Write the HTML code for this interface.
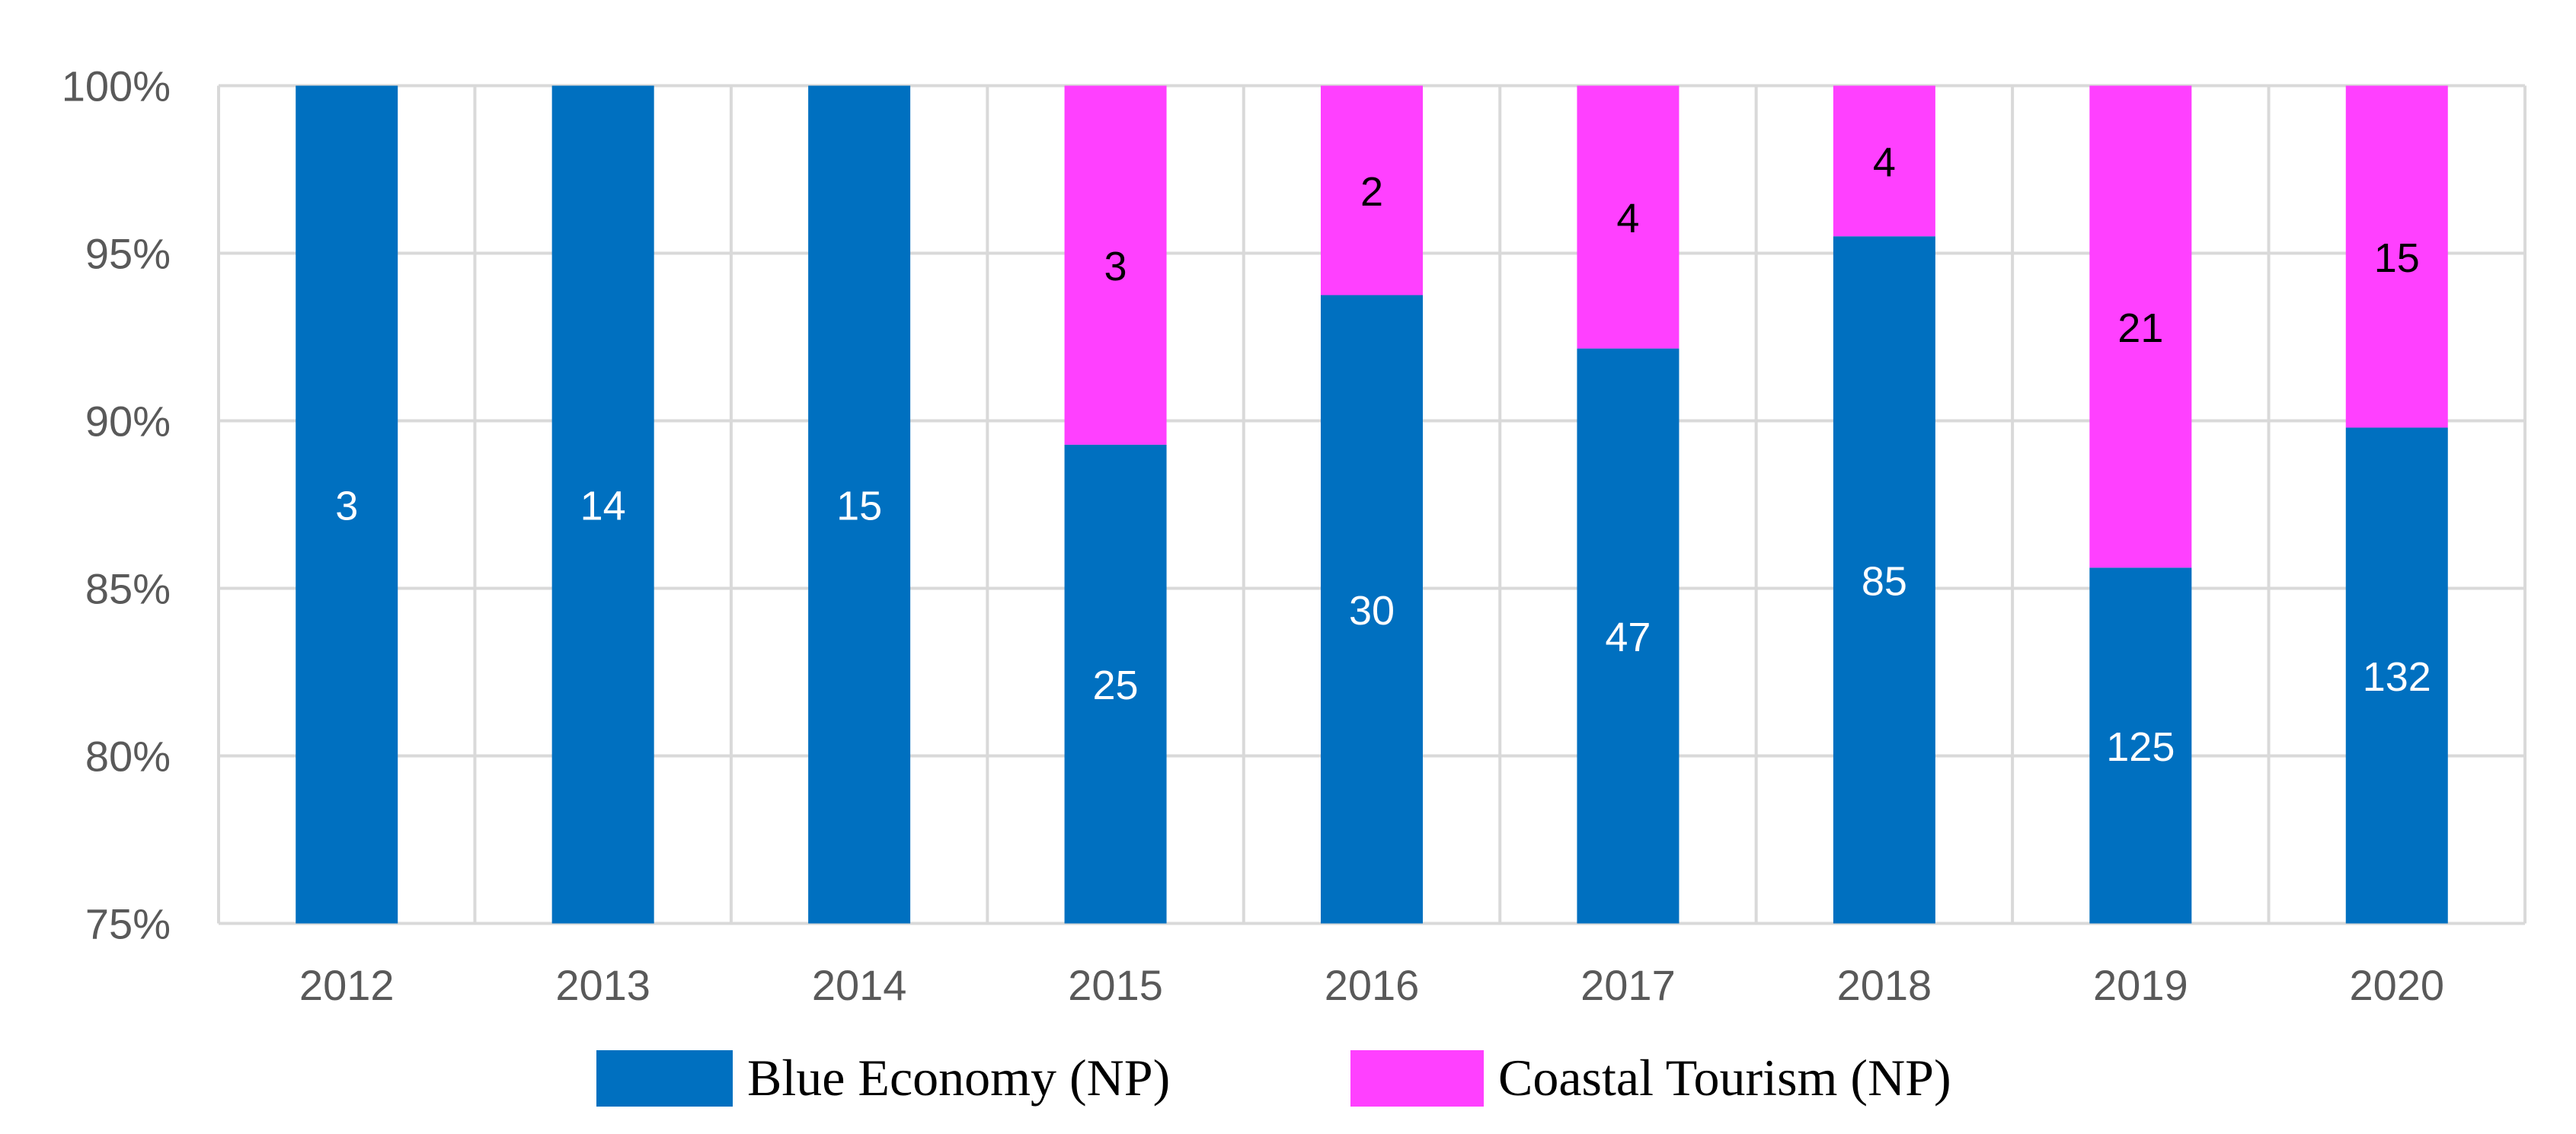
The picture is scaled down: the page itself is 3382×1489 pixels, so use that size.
<!DOCTYPE html>
<html><head><meta charset="utf-8">
<style>
html,body{margin:0;padding:0;background:#fff;}
svg{display:block;}
</style></head>
<body>
<svg id="chart" width="3382" height="1489" viewBox="0 0 3382 1489" xmlns="http://www.w3.org/2000/svg">
<rect x="0" y="0" width="3382" height="1489" fill="#ffffff"/>
<g id="grid"></g>
<g id="bars"></g>
<g id="yaxis"></g>
<g id="xaxis"></g>
<g>
  <g>
    <rect x="783" y="1379" width="179" height="74" fill="#0070C0"/>
    <text x="981" y="1438" font-family="Liberation Serif, serif" font-size="68" fill="#000">Blue Economy (NP)</text>
  </g>
  <g>
    <rect x="1773" y="1379" width="175" height="74" fill="#FF40FF"/>
    <text x="1967" y="1438" font-family="Liberation Serif, serif" font-size="68" fill="#000">Coastal Tourism (NP)</text>
  </g>
</g>
</svg>
<script>
const categories = ["2012","2013","2014","2015","2016","2017","2018","2019","2020"];
const blueEconomy = [3,14,15,25,30,47,85,125,132];
const coastalTourism = [0,0,0,3,2,4,4,21,15];
const yTicks = [75,80,85,90,95,100];
const yTickLabels = ["75%","80%","85%","90%","95%","100%"];

const NS = "http://www.w3.org/2000/svg";
const plotL = 287, plotR = 3315, plotT = 112.5, plotB = 1212.5;
const yMin = 75, yMax = 100;
const catW = (plotR - plotL) / categories.length;
const barW = 134;
function y(p){ return plotB - (p - yMin) / (yMax - yMin) * (plotB - plotT); }
function xc(i){ return plotL + catW * (i + 0.5); }
function mk(tag, attrs, parent){
  const e = document.createElementNS(NS, tag);
  for (const k in attrs) e.setAttribute(k, attrs[k]);
  parent.appendChild(e);
  return e;
}
const grid = document.getElementById("grid");
const bars = document.getElementById("bars");
const yaxis = document.getElementById("yaxis");
const xaxis = document.getElementById("xaxis");

yTicks.forEach((t, i) => {
  const l = mk("line", {x1: plotL, x2: plotR, y1: y(t), y2: y(t), stroke: "#d9d9d9", "stroke-width": 4}, grid);
  
  
  const tx = mk("text", {x: 224, y: y(t) + 20, "text-anchor": "end", "font-family": "Liberation Sans, sans-serif", "font-size": 56, fill: "#595959"}, yaxis);
  tx.textContent = yTickLabels[i];
  
  
});
for (let i = 0; i <= categories.length; i++) {
  const gx = plotL + catW * i;
  const l = mk("line", {x1: gx, x2: gx, y1: plotT, y2: plotB, stroke: "#d9d9d9", "stroke-width": 4}, grid);
  
  
}
categories.forEach((c, i) => {
  const total = blueEconomy[i] + coastalTourism[i];
  const pct = blueEconomy[i] / total * 100;
  const split = y(Math.max(pct, yMin));
  const cx = xc(i);
  const b = mk("rect", {x: cx - barW/2, y: split, width: barW, height: plotB - split, fill: "#0070C0"}, bars);
  
  
  const bl = mk("text", {x: cx, y: (split + plotB)/2 + 20, "text-anchor": "middle", "font-family": "Liberation Sans, sans-serif", "font-size": 54, fill: "#ffffff"}, bars);
  bl.textContent = blueEconomy[i];
  
  
  if (coastalTourism[i] > 0) {
    const p = mk("rect", {x: cx - barW/2, y: plotT, width: barW, height: split - plotT, fill: "#FF40FF"}, bars);
    
    
    const pl = mk("text", {x: cx, y: (plotT + split)/2 + 20, "text-anchor": "middle", "font-family": "Liberation Sans, sans-serif", "font-size": 54, fill: "#000000"}, bars);
    pl.textContent = coastalTourism[i];
    
    
  }
  const xl = mk("text", {x: cx, y: 1313, "text-anchor": "middle", "font-family": "Liberation Sans, sans-serif", "font-size": 56, fill: "#595959"}, xaxis);
  xl.textContent = c;
  
  
});
</script>
</body></html>
